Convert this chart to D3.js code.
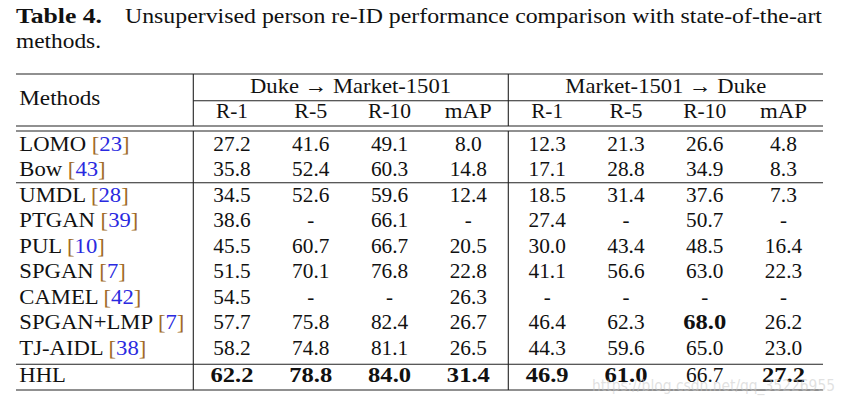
<!DOCTYPE html>
<html>
<head>
<meta charset="utf-8">
<script src="https://cdn.jsdelivr.net/npm/d3@7"></script>
<style>
  html, body { margin: 0; padding: 0; background: #fff; }
  svg { display: block; }
</style>
</head>
<body>
<svg id="chart" width="845" height="404"></svg>
<script>
// ---------- data ----------
const captionLabel = "Table 4.";
const captionLine1 = "Unsupervised person re-ID performance comparison with state-of-the-art";
const captionLine2 = "methods.";
const methodHeader = "Methods";
const groups = ["Duke \u2192 Market-1501", "Market-1501 \u2192 Duke"];
const metrics = ["R-1", "R-5", "R-10", "mAP"];
const methods = ["LOMO", "Bow", "UMDL", "PTGAN", "PUL", "SPGAN", "CAMEL", "SPGAN+LMP", "TJ-AIDL", "HHL"];
const citations = ["23", "43", "28", "39", "10", "7", "42", "7", "38", null];
const dukeToMarket = [
  [27.2, 41.6, 49.1, 8.0],
  [35.8, 52.4, 60.3, 14.8],
  [34.5, 52.6, 59.6, 12.4],
  [38.6, null, 66.1, null],
  [45.5, 60.7, 66.7, 20.5],
  [51.5, 70.1, 76.8, 22.8],
  [54.5, null, null, 26.3],
  [57.7, 75.8, 82.4, 26.7],
  [58.2, 74.8, 81.1, 26.5],
  [62.2, 78.8, 84.0, 31.4]
];
const marketToDuke = [
  [12.3, 21.3, 26.6, 4.8],
  [17.1, 28.8, 34.9, 8.3],
  [18.5, 31.4, 37.6, 7.3],
  [27.4, null, 50.7, null],
  [30.0, 43.4, 48.5, 16.4],
  [41.1, 56.6, 63.0, 22.3],
  [null, null, null, null],
  [46.4, 62.3, 68.0, 26.2],
  [44.3, 59.6, 65.0, 23.0],
  [46.9, 61.0, 66.7, 27.2]
];
// highlighted (bold) cells: [method, column index 0..7]
const boldCells = [["HHL",0],["HHL",1],["HHL",2],["HHL",3],["HHL",4],["HHL",5],["HHL",7],["SPGAN+LMP",6]];
const watermark = "https://blog.csdn.net/qq_35226955";

// ---------- pick an installed serif face ----------
function pickSerif() {
  const cands = ["Liberation Serif", "DejaVu Serif", "Noto Serif", "Times New Roman", "Tinos",
                 "FreeSerif", "Nimbus Roman", "Nimbus Roman No9 L", "Georgia", "Times", "serif"];
  const ctx = document.createElement("canvas").getContext("2d");
  const probe = "Methods WMmiIl 0123456789 [SPGAN+LMP]";
  const base = f => { ctx.font = "40px " + f; return ctx.measureText(probe).width; };
  const mono = base("monospace"), sans = base("sans-serif");
  for (const c of cands) {
    const name = c === "serif" ? c : "'" + c + "'";
    const w1 = base(name + ", monospace"), w2 = base(name + ", sans-serif");
    if (Math.abs(w1 - mono) > 0.5 && Math.abs(w2 - sans) > 0.5) return name;
  }
  return "serif";
}
const FONT = pickSerif() + ", serif";

// ---------- layout ----------
const svg = d3.select("#chart");
const FS = 21;
const ink = "#111";
const left = 16, right = 823;
const vx1 = 193.3, vx2 = 508.3;
const yTop = 74, yMid = 100.7, yD1 = 126, yD2 = 131, yBow = 182.7, yHHL = 364.3, yBot = 390;

const colKeys = d3.range(8);
const x = d3.scalePoint().domain(colKeys).range([232, 783.5]);
const groupX = d3.scalePoint().domain(groups).range([350.5, 665.8]);
const rowY = d3.scaleLinear().domain([0, 8]).range([150.7, 354.7]);
const yOf = i => rowY(i) + (i === 9 ? 1.5 : 0);

// fit a text to a target width (reference is Computer Modern, wider than Times)
function fitTo(sel, wFn) {
  sel.each(function (d) {
    d3.select(this).attr("textLength", wFn(d, this)).attr("lengthAdjust", "spacingAndGlyphs");
  });
  return sel;
}
const scaleBy = k => (d, el) => el.getComputedTextLength() * k;

// caption
fitTo(svg.append("text").attr("x", left).attr("y", 22.7)
  .attr("font-family", FONT).attr("font-size", FS).attr("font-weight", "bold").attr("fill", ink)
  .text(captionLabel), () => 86);
fitTo(svg.append("text").attr("x", 125).attr("y", 22.7)
  .attr("font-family", FONT).attr("font-size", FS).attr("fill", ink)
  .text(captionLine1), () => right - 125 - 1);
fitTo(svg.append("text").attr("x", left).attr("y", 48.3)
  .attr("font-family", FONT).attr("font-size", FS).attr("fill", ink).text(captionLine2), () => 85);

// rules
const rules = svg.append("g").attr("stroke", "#222").attr("stroke-width", 1.1);
[yTop, yD1, yD2, yBow, yHHL, yBot].forEach(y => {
  rules.append("line").attr("x1", left).attr("x2", right).attr("y1", y).attr("y2", y);
});
rules.append("line").attr("x1", vx1).attr("x2", right).attr("y1", yMid).attr("y2", yMid);
[vx1, vx2].forEach(vx => {
  rules.append("line").attr("x1", vx).attr("x2", vx).attr("y1", yTop).attr("y2", yD1);
  rules.append("line").attr("x1", vx).attr("x2", vx).attr("y1", yD2).attr("y2", yBot);
});

// header
fitTo(svg.append("text").attr("x", 19.3).attr("y", 105)
  .attr("font-family", FONT).attr("font-size", FS).attr("fill", ink).text(methodHeader), () => 81);
fitTo(svg.selectAll("text.group").data(groups).join("text").attr("class", "group")
  .attr("x", d => groupX(d)).attr("y", 93.3).attr("text-anchor", "middle")
  .attr("font-family", FONT).attr("font-size", FS).attr("fill", ink)
  .text(d => d), () => 201);
const subW = { "R-1": 32, "R-5": 33, "R-10": 43, "mAP": 47 };
fitTo(svg.selectAll("text.metric").data(colKeys).join("text").attr("class", "metric")
  .attr("x", d => x(d)).attr("y", 118.3).attr("text-anchor", "middle")
  .attr("font-family", FONT).attr("font-size", FS).attr("fill", ink)
  .text(d => metrics[d % 4]), d => subW[metrics[d % 4]]);

// method names with citations
methods.forEach((m, i) => {
  const t = svg.append("text").attr("x", 19.3).attr("y", yOf(i))
    .attr("font-family", FONT).attr("font-size", FS).attr("fill", ink);
  t.append("tspan").text(m);
  if (citations[i]) {
    t.append("tspan").text(" ");
    t.append("tspan").attr("fill", "#a06a28").text("[");
    t.append("tspan").attr("fill", "#2a2ae0").text(citations[i]);
    t.append("tspan").attr("fill", "#a06a28").text("]");
  }
  fitTo(t, scaleBy(1.08));
});

// values
const cells = [];
methods.forEach((m, i) => {
  dukeToMarket[i].forEach((v, j) => cells.push({ m, i, c: j, v }));
  marketToDuke[i].forEach((v, j) => cells.push({ m, i, c: j + 4, v }));
});
const isBold = d => boldCells.some(b => b[0] === d.m && b[1] === d.c);
const vals = svg.selectAll("text.val").data(cells).join("text").attr("class", "val")
  .attr("x", d => x(d.c)).attr("y", d => yOf(d.i)).attr("text-anchor", "middle")
  .attr("font-family", FONT).attr("font-size", FS).attr("fill", ink)
  .attr("font-weight", d => isBold(d) ? "bold" : "normal")
  .text(d => d.v == null ? "-" : d3.format(".1f")(d.v));
fitTo(vals.filter(d => d.v != null), d => {
  const s = d3.format(".1f")(d.v);
  const digits = s.length - 1;
  return isBold(d) ? digits * 12.1 + 6.7 : digits * 10.5 + 5.8;
});

// watermark
svg.append("text").attr("x", 592).attr("y", 391)
  .attr("font-family", "DejaVu Sans, sans-serif").attr("font-size", 16)
  .attr("fill", "#c8c8c8").attr("fill-opacity", 0.55)
  .attr("textLength", 243).attr("lengthAdjust", "spacingAndGlyphs")
  .text(watermark);
</script>
</body>
</html>
